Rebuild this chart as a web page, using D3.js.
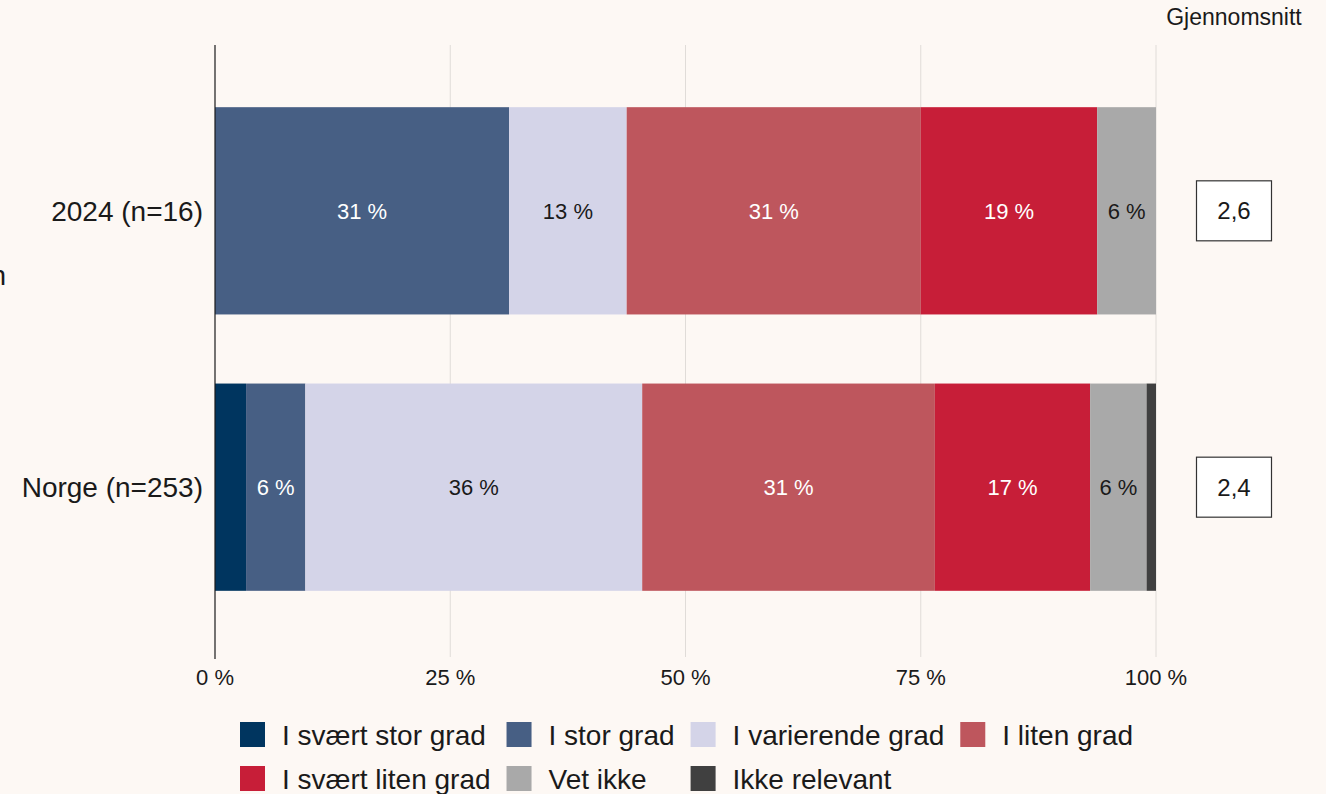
<!DOCTYPE html>
<html><head><meta charset="utf-8">
<script src="https://cdn.jsdelivr.net/npm/d3@7"></script>
<style>
body{margin:0;background:#fdf8f4;}
svg{display:block;font-family:"Liberation Sans",Arial,sans-serif;}
</style></head>
<body><svg id="c" width="1326" height="794"></svg>
<script>
const groups = ["2024 (n=16)", "Norge (n=253)"];
const categories = ["I svært stor grad","I stor grad","I varierende grad","I liten grad","I svært liten grad","Vet ikke","Ikke relevant"];
const colors = ["#00355f","#475f84","#d4d4e8","#be565d","#c71e38","#a9a9a9","#404040"];
const labelColors = ["#ffffff","#ffffff","#1a1a1a","#ffffff","#ffffff","#1a1a1a","#ffffff"];
const values2024 = [0, 31.25, 12.5, 31.25, 18.75, 6.25, 0];
const valuesNorge = [3.3, 6.3, 35.8, 31.1, 16.5, 6.0, 1.0];
const averages = ["2,6", "2,4"];
const xTicks = [0, 25, 50, 75, 100];
const averageTitle = "Gjennomsnitt";

const svg = d3.select("#c");
svg.append("rect").attr("width",1326).attr("height",794).attr("fill","#fdf8f4");

const x = d3.scaleLinear().domain([0,100]).range([215,1156]);
const y = d3.scaleBand().domain(groups).range([45,653]).paddingInner(0.25).paddingOuter(0.225);

// grid
svg.append("g").selectAll("line").data(xTicks.slice(1)).join("line")
  .attr("x1",d=>x(d)).attr("x2",d=>x(d)).attr("y1",45).attr("y2",657)
  .attr("stroke","#e0dcd8").attr("stroke-width",1);

const data = [values2024, valuesNorge];
groups.forEach((g,gi)=>{
  let cum = 0;
  const segs = data[gi].map((v,i)=>{const s={i,v,x0:cum,x1:cum+v}; cum+=v; return s;});
  const gg = svg.append("g");
  gg.selectAll("rect").data(segs.filter(s=>s.v>0)).join("rect")
    .attr("x",s=>x(s.x0)).attr("width",s=>x(s.x1)-x(s.x0))
    .attr("y",y(g)).attr("height",y.bandwidth())
    .attr("fill",s=>colors[s.i]);
  gg.selectAll("text").data(segs.filter(s=>s.v>=5)).join("text")
    .attr("x",s=>(x(s.x0)+x(s.x1))/2).attr("y",y(g)+y.bandwidth()/2)
    .attr("dy","0.36em").attr("text-anchor","middle")
    .attr("font-size",22).attr("fill",s=>labelColors[s.i])
    .text(s=>Math.round(s.v)+" %");
  svg.append("text").attr("x",203).attr("y",y(g)+y.bandwidth()/2).attr("dy","0.36em")
    .attr("text-anchor","end").attr("font-size",28).attr("fill","#1a1a1a").text(g);
  const cy = y(g)+y.bandwidth()/2;
  svg.append("rect").attr("x",1196.5).attr("y",cy-30).attr("width",75).attr("height",60)
    .attr("fill","#ffffff").attr("stroke","#333").attr("stroke-width",1.2);
  svg.append("text").attr("x",1234).attr("y",cy).attr("dy","0.36em").attr("text-anchor","middle")
    .attr("font-size",24).attr("fill","#1a1a1a").text(averages[gi]);
});

// axis line
svg.append("line").attr("x1",215).attr("x2",215).attr("y1",45).attr("y2",659).attr("stroke","#1a1a1a").attr("stroke-width",1.2);

// x tick labels
svg.append("g").selectAll("text").data(xTicks).join("text")
  .attr("x",d=>x(d)).attr("y",685).attr("text-anchor","middle")
  .attr("font-size",22).attr("fill","#1a1a1a").text(d=>d+" %");

svg.append("text").attr("x",1234).attr("y",25).attr("text-anchor","middle")
  .attr("font-size",23).attr("fill","#1a1a1a").text(averageTitle);

svg.append("text").attr("x",6).attr("y",285).attr("text-anchor","end")
  .attr("font-size",28).attr("fill","#1a1a1a").text("n");

// legend
const nCols = 4, rowY = [734.5, 778.5], startX = 240, sq = 25, gapT = 17, gapItem = 16, fs = 28;
const leg = svg.append("g");
const tmp = leg.append("text").attr("font-size",fs);
const widths = categories.map(c=>{tmp.text(c); return tmp.node().getComputedTextLength();});
tmp.remove();
const colW = d3.range(nCols).map(c=>d3.max(categories.map((_,i)=>i).filter(i=>i%nCols===c), i=>widths[i]));
let colX = [startX];
for(let c=1;c<nCols;c++) colX.push(colX[c-1]+sq+gapT+colW[c-1]+gapItem);
categories.forEach((cat,i)=>{
  const r = Math.floor(i/nCols), c = i%nCols;
  leg.append("rect").attr("x",colX[c]).attr("y",rowY[r]-12.5).attr("width",sq).attr("height",sq).attr("fill",colors[i]);
  leg.append("text").attr("x",colX[c]+sq+gapT).attr("y",rowY[r]).attr("dy","0.36em")
    .attr("font-size",fs).attr("fill","#1a1a1a").text(cat);
});
</script></body></html>
